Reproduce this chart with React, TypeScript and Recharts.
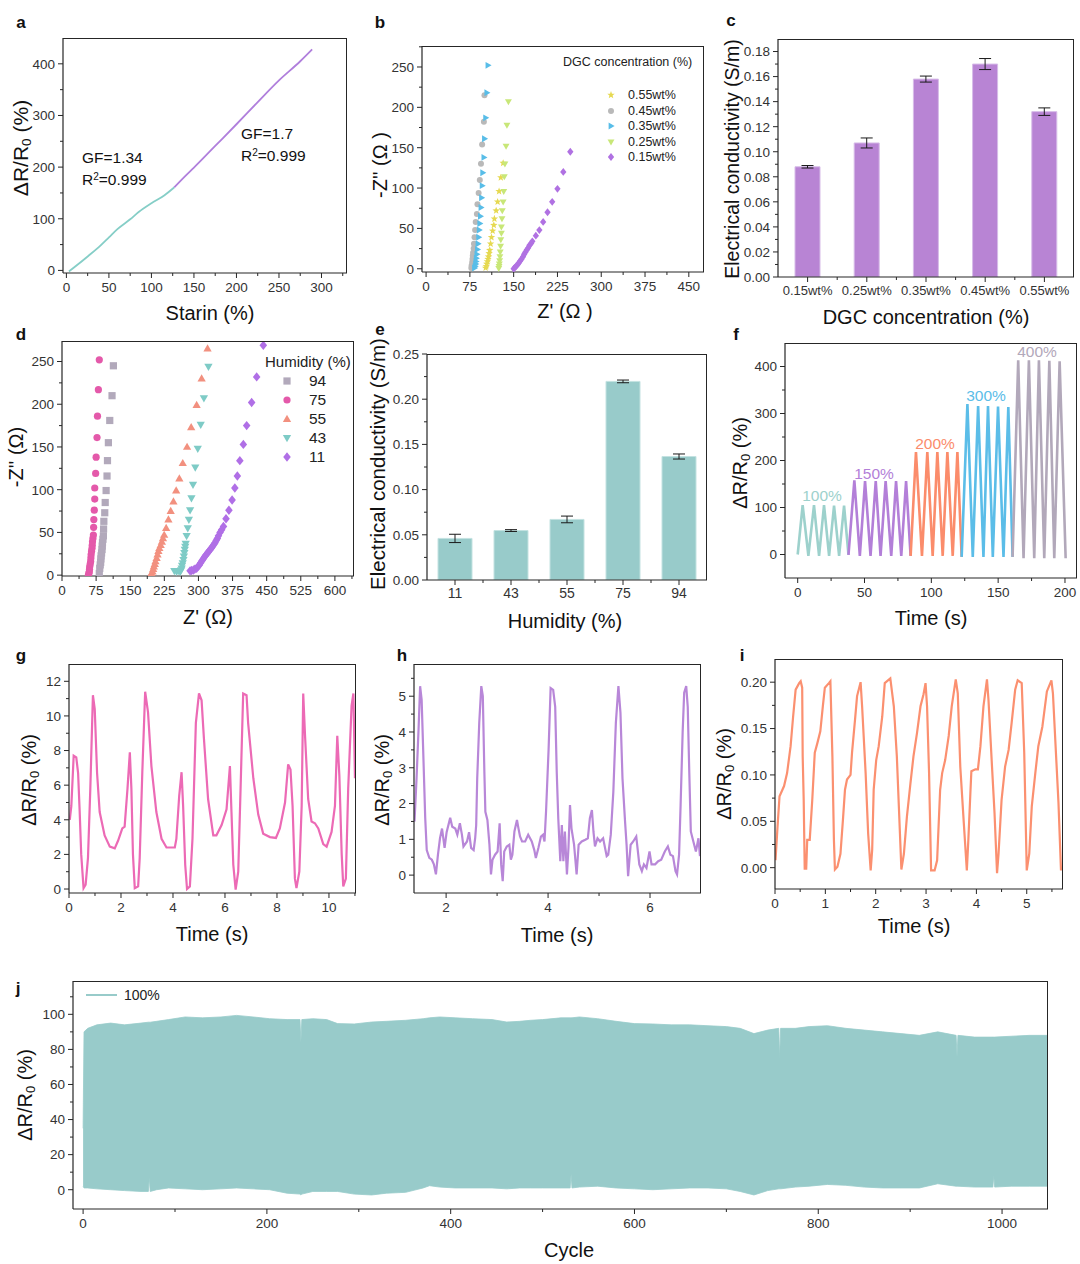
import React from 'react'
import {
  LineChart, Line, ScatterChart, Scatter, BarChart, Bar, ErrorBar, AreaChart, Area, XAxis, YAxis,
} from 'recharts'

const FONT = "'Liberation Sans', Arial, Helvetica, sans-serif"
const AXIS = '#262626'
const TXT = '#333333'

// ---------- a: strain response ----------
const aStrainLow = [3, 10, 25, 40, 50, 60, 75, 85, 100, 115, 127]
const aRespLow = [-2, 7, 27, 48, 64, 80, 99, 113, 130, 145, 161]
const aStrainHigh = [127, 140, 150, 175, 200, 225, 250, 275, 289]
const aRespHigh = [161, 183, 199, 241, 283, 326, 368, 405, 428]

// ---------- b: Nyquist vs DGC concentration ----------
const dgc055Re = [102, 103, 104, 105, 106, 107, 108, 109, 110.5, 112, 114, 116, 117, 120, 122.5, 125, 128, 132]
const dgc055Im = [1, 3, 6, 9, 12, 15, 19, 23, 31, 39, 47, 54, 62, 72, 83, 96, 113, 131]
const dgc045Re = [77.5, 78, 79, 79.5, 80, 80.5, 81.5, 82, 83, 84, 85, 87, 88, 90, 92, 94, 96, 99, 100]
const dgc045Im = [1, 4, 8, 12, 16, 20, 25, 31, 39, 48, 58, 68, 80, 94, 110, 130, 154, 182, 215]
const dgc035Re = [83, 84, 85, 85.5, 86, 87, 88, 89, 90, 91, 92, 93, 94, 95, 96, 97, 99, 100, 102, 104, 106]
const dgc035Im = [1, 3, 6, 9, 13, 18, 24, 31, 39, 48, 56, 65, 76, 88, 103, 119, 138, 161, 187, 218, 252]
const dgc025Re = [124.5, 125, 125.5, 126, 126.5, 127, 127.6, 128, 129, 129, 130, 130.5, 132, 133, 134, 135, 137, 138.5, 141]
const dgc025Im = [0.5, 3, 6, 10, 15, 21, 28, 36, 44, 52, 62, 72, 83, 96, 114, 130, 152, 178, 207]
const dgc015Re = [150, 152, 154, 156.5, 159, 161, 163.5, 166, 168, 170, 172.6, 175, 177, 180, 182, 188, 194, 200.5, 208, 216, 225, 235, 247]
const dgc015Im = [0, 1.5, 3, 5, 7.4, 9.5, 12, 15, 18, 20.5, 23.5, 26, 29, 31.5, 34, 41, 48, 58, 70, 83, 99, 120, 145]

// ---------- c: conductivity vs DGC ----------
const dgcCats = ['0.15wt%', '0.25wt%', '0.35wt%', '0.45wt%', '0.55wt%']
const dgcCond = [0.088, 0.107, 0.158, 0.170, 0.132]
const dgcErr = [0.001, 0.004, 0.0024, 0.0044, 0.003]

// ---------- d: Nyquist vs humidity ----------
const rh94Re = [82, 83, 84, 85, 85.5, 86, 87, 88, 88.5, 89, 90, 91, 91.4, 92, 94, 95, 97, 99, 100, 102, 105, 110, 113]
const rh94Im = [2, 8, 12, 15, 19, 22.6, 26, 30, 34, 38, 42, 46, 54, 63, 73, 85, 99, 116, 134, 155, 181, 210, 245]
const rh75Re = [58, 59, 60, 60.5, 61, 62, 63, 63.5, 64, 65, 66, 66.5, 67, 68, 69, 69.5, 70, 71, 72, 72, 74, 75, 77, 78, 80, 82]
const rh75Im = [0, 2, 4, 7, 10, 13, 16, 20, 24, 28, 31.5, 35, 39, 43, 47, 56, 65, 76, 89, 102, 119, 138, 161, 186, 217, 252]
const rh55Re = [195, 197, 199, 200.5, 202, 204, 205.5, 208, 210, 212, 214, 217, 219.5, 222, 224.6, 229, 234, 239, 245, 251, 258, 265.5, 275, 284, 296, 307, 320]
const rh55Im = [0, 2, 4, 7, 10, 13, 16, 20, 24, 28, 31.5, 35, 39, 43, 47, 55, 65, 75, 86, 99, 113, 131, 150, 173, 199, 230, 265]
const rh43Re = [247, 252, 257, 260, 262, 263, 264, 265.5, 267, 268, 269, 270, 271, 272, 274, 276.5, 279, 281.6, 284.6, 288, 293, 298.5, 305, 312, 322]
const rh43Im = [5, 4, 4.5, 4, 6, 8, 11, 14, 18, 22, 26, 30, 33.5, 37, 46, 55, 65, 76, 90, 106, 126, 148, 176, 207, 244]
const rh11Re = [281.6, 285, 289, 292, 296, 299, 302, 305, 308, 311, 314, 317, 319.7, 322, 325.5, 328, 331, 334, 336.5, 339, 341.6, 344, 347.5, 351, 355, 360.6, 367, 374, 380, 385.5, 391, 398.7, 406, 417, 428, 442.6]
const rh11Im = [5, 5.5, 6, 7, 8, 10, 12, 14.5, 17, 19.5, 21.8, 24, 25.7, 27.5, 29.6, 31.5, 33.5, 36, 38, 40.5, 43, 46, 50, 53, 57, 66, 76, 88, 102, 116, 134, 153, 175, 202, 232, 269]

// ---------- e: conductivity vs humidity ----------
const humCats = ['11', '43', '55', '75', '94']
const humCond = [0.046, 0.0547, 0.067, 0.2197, 0.1366]
const humErr = [0.0046, 0.001, 0.0037, 0.0015, 0.0028]

// ---------- f: cyclic strain steps ----------
const f100T = [0, 3.7, 8, 12.2, 16, 19.7, 23.5, 27.2, 31, 34.7, 38]
const f100V = [0, 105, -3, 105, -3, 105, -3, 104, -3, 104, -1]
const f150T = [38, 42.4, 46.5, 50.4, 54.5, 58.4, 62, 65.8, 70, 73.6, 77.5, 81.1, 84.5]
const f150V = [-1, 158, -3, 156, -3, 156, -3, 156, -3, 156, -3, 156, -3]
const f200T = [84.5, 88.5, 93, 97, 101, 104.5, 108.5, 112, 116, 119.5, 122.7]
const f200V = [-3, 218, -3, 218, -3, 218, -3, 218, -3, 218, -5]
const f300T = [122.7, 127, 131, 135, 139, 142.4, 146, 149.9, 154, 157.6, 160.8]
const f300V = [-5, 320, -5, 316, -5, 316, -5, 315, -5, 314, -5]
const f400T = [160.8, 165, 169, 173, 177, 180.5, 184.5, 188.3, 192, 196, 200.5]
const f400V = [-5, 413, -8, 413, -8, 413, -8, 412, -8, 411, -8]

// ---------- g ----------
const gT = [0.03, 0.09, 0.18, 0.28, 0.35, 0.41, 0.47, 0.56, 0.64, 0.73, 0.82, 0.92, 0.99, 1.08, 1.18, 1.37, 1.57, 1.76, 1.89, 2.05, 2.14, 2.25, 2.34, 2.4, 2.46, 2.53, 2.66, 2.72, 2.82, 2.93, 3.04, 3.17, 3.36, 3.56, 3.75, 4.07, 4.13, 4.24, 4.33, 4.39, 4.47, 4.54, 4.65, 4.75, 4.88, 5.0, 5.1, 5.19, 5.35, 5.55, 5.67, 5.87, 6.06, 6.19, 6.25, 6.32, 6.41, 6.51, 6.6, 6.7, 6.83, 6.89, 7.09, 7.28, 7.47, 7.73, 7.96, 8.11, 8.31, 8.43, 8.52, 8.6, 8.69, 8.75, 8.86, 8.95, 9.01, 9.08, 9.2, 9.33, 9.46, 9.59, 9.78, 9.91, 10.1, 10.23, 10.32, 10.4, 10.49, 10.55, 10.65, 10.74, 10.87, 10.94, 11.0]
const gV = [4.0, 4.8, 7.7, 7.6, 6.7, 4.5, 2.0, 0.05, 0.25, 1.8, 5.8, 11.2, 10.4, 6.7, 4.45, 3.1, 2.45, 2.35, 2.8, 3.5, 3.6, 5.8, 7.9, 5.8, 2.0, 0.05, 0.15, 1.8, 6.75, 11.4, 10.2, 7.1, 4.45, 2.9, 2.4, 2.4, 2.9, 5.4, 6.75, 4.8, 1.4, 0.0, 0.15, 2.9, 9.6, 11.3, 10.9, 8.7, 5.2, 3.1, 3.1, 3.7, 4.6, 7.1, 4.45, 1.4, -0.04, 1.0, 5.8, 11.3, 11.2, 9.6, 6.4, 4.3, 3.2, 3.0, 2.95, 3.5, 5.0, 7.2, 6.9, 4.8, 0.6, 0.05, 1.0, 4.8, 11.3, 8.85, 5.2, 3.9, 3.8, 3.5, 2.6, 2.45, 3.3, 4.8, 8.85, 6.55, 2.0, 0.15, 0.6, 5.8, 10.6, 11.3, 6.4]

// ---------- h ----------
const hT = [1.38, 1.42, 1.46, 1.49, 1.52, 1.55, 1.59, 1.62, 1.67, 1.72, 1.76, 1.8, 1.84, 1.88, 1.92, 1.97, 2.01, 2.08, 2.12, 2.18, 2.22, 2.27, 2.31, 2.34, 2.41, 2.45, 2.49, 2.54, 2.57, 2.59, 2.61, 2.65, 2.69, 2.72, 2.75, 2.77, 2.81, 2.85, 2.88, 2.91, 2.96, 3.01, 3.05, 3.08, 3.11, 3.14, 3.19, 3.24, 3.27, 3.3, 3.34, 3.39, 3.42, 3.45, 3.49, 3.55, 3.61, 3.68, 3.73, 3.76, 3.81, 3.86, 3.9, 3.93, 3.96, 4.01, 4.05, 4.1, 4.14, 4.17, 4.2, 4.24, 4.27, 4.3, 4.33, 4.37, 4.4, 4.43, 4.46, 4.51, 4.56, 4.6, 4.66, 4.73, 4.78, 4.82, 4.86, 4.89, 4.92, 4.97, 5.02, 5.08, 5.15, 5.18, 5.23, 5.28, 5.33, 5.38, 5.42, 5.46, 5.51, 5.54, 5.57, 5.62, 5.67, 5.73, 5.79, 5.84, 5.88, 5.93, 5.99, 6.03, 6.1, 6.16, 6.22, 6.29, 6.35, 6.4, 6.45, 6.5, 6.53, 6.57, 6.6, 6.64, 6.67, 6.71, 6.74, 6.77, 6.8, 6.85, 6.9, 6.95, 6.98]
const hV = [1.5, 2.7, 4.1, 5.28, 4.9, 3.5, 1.6, 0.7, 0.48, 0.43, 0.3, 0.02, 0.57, 1.03, 1.3, 0.76, 1.2, 1.6, 1.35, 1.3, 1.13, 1.45, 1.13, 0.8, 0.94, 1.2, 0.76, 0.7, 1.03, 1.4, 2.7, 4.26, 5.28, 5.0, 2.9, 1.77, 1.54, 0.85, 0.02, 0.43, 0.57, 0.66, 1.45, 0.3, -0.17, 0.66, 0.8, 0.85, 0.43, 0.57, 1.22, 1.54, 1.3, 1.08, 0.94, 0.94, 1.13, 0.94, 0.7, 0.48, 0.76, 1.08, 1.13, 0.94, 1.77, 3.5, 5.23, 5.18, 4.7, 2.88, 1.59, 0.39, 1.4, 0.39, 1.22, 0.02, 0.76, 1.96, 1.3, 0.85, 0.02, 0.85, 0.94, 0.99, 1.03, 1.59, 1.82, 1.22, 0.8, 1.03, 0.94, 1.03, 0.53, 0.57, 1.13, 2.32, 4.26, 5.28, 4.54, 2.7, 1.5, 0.85, -0.03, 0.85, 0.94, 1.08, 0.3, 0.11, 0.3, 0.2, 0.66, 0.3, 0.3, 0.39, 0.43, 0.66, 0.8, 0.57, 0.53, 0.11, 0.02, 0.57, 1.96, 3.99, 5.1, 5.28, 4.7, 2.88, 1.22, 0.94, 0.66, 1.03, 0.53]

// ---------- i ----------
const iT = [0.01, 0.05, 0.09, 0.18, 0.24, 0.31, 0.36, 0.41, 0.48, 0.51, 0.54, 0.55, 0.57, 0.59, 0.62, 0.64, 0.69, 0.74, 0.79, 0.84, 0.9, 0.95, 0.99, 1.07, 1.1, 1.14, 1.17, 1.19, 1.24, 1.3, 1.35, 1.39, 1.43, 1.5, 1.53, 1.59, 1.63, 1.7, 1.73, 1.8, 1.85, 1.9, 1.93, 1.96, 2.01, 2.06, 2.13, 2.18, 2.29, 2.36, 2.42, 2.46, 2.51, 2.56, 2.62, 2.69, 2.75, 2.82, 2.89, 2.95, 2.99, 3.02, 3.06, 3.1, 3.17, 3.22, 3.28, 3.32, 3.38, 3.45, 3.51, 3.59, 3.63, 3.68, 3.75, 3.81, 3.84, 3.88, 3.9, 3.98, 4.03, 4.08, 4.14, 4.21, 4.24, 4.31, 4.36, 4.41, 4.44, 4.5, 4.57, 4.64, 4.7, 4.77, 4.82, 4.9, 4.95, 5.0, 5.05, 5.1, 5.17, 5.23, 5.31, 5.4, 5.49, 5.52, 5.56, 5.63, 5.68]
const iV = [0.008, 0.044, 0.077, 0.088, 0.102, 0.131, 0.163, 0.192, 0.199, 0.201, 0.194, 0.12, 0.073, -0.001, -0.001, 0.03, 0.03, 0.073, 0.124, 0.134, 0.147, 0.174, 0.194, 0.199, 0.201, 0.12, 0.03, -0.002, 0.001, 0.015, 0.052, 0.084, 0.095, 0.1, 0.124, 0.16, 0.185, 0.2, 0.174, 0.102, 0.037, -0.003, 0.019, 0.084, 0.116, 0.131, 0.163, 0.199, 0.204, 0.174, 0.12, 0.066, -0.002, 0.015, 0.055, 0.091, 0.12, 0.145, 0.174, 0.187, 0.199, 0.174, 0.102, -0.003, -0.003, 0.008, 0.084, 0.102, 0.116, 0.142, 0.174, 0.203, 0.188, 0.109, 0.048, -0.003, 0.03, 0.08, 0.104, 0.106, 0.106, 0.131, 0.174, 0.203, 0.181, 0.109, 0.059, -0.006, 0.015, 0.073, 0.109, 0.127, 0.156, 0.192, 0.202, 0.199, 0.124, -0.003, 0.015, 0.066, 0.102, 0.131, 0.152, 0.19, 0.202, 0.188, 0.145, 0.07, -0.003]

// ---------- j: long cycling envelope ----------
const jCycle = [0, 1, 5, 15, 30, 45, 63, 71, 72, 73, 80, 93, 111, 130, 150, 167, 185, 203, 222, 236, 237, 238, 250, 265, 277, 295, 314, 330, 351, 370, 377, 388, 405, 424, 445, 461, 475, 487, 500, 520, 530, 531, 532, 540, 560, 580, 600, 620, 640, 660, 680, 700, 715, 730, 745, 757, 758, 759, 775, 790, 810, 830, 850, 870, 890, 910, 930, 950, 951, 952, 970, 990, 991, 992, 1010, 1030, 1050]
const jHigh = [35, 90, 92, 94, 95, 94, 95, 95.5, 95.5, 95.5, 96, 97, 98.5, 98, 98.5, 99.4, 98.5, 97.5, 97, 97, 84, 97, 97.5, 97, 94.7, 94.5, 95.6, 96, 96.6, 97.5, 98, 98.5, 98, 97.5, 97, 95.6, 96, 96.6, 97, 98, 98, 98, 98, 98.5, 97.5, 96, 94.7, 94.5, 94, 94, 93.5, 93, 92, 89, 91, 92, 75, 92, 92, 93, 93.5, 92, 91, 90, 89, 88, 90, 88, 76, 88, 87, 87, 87, 87, 87.5, 88, 88]
const jLow = [2, 1, 1, 0.5, 0, -0.5, -1, -1, 7, -1, 0, 1, 0.5, 0, 0.5, 1, 0.5, 0, -2, -2.5, -3, -2.5, -1, -1, -1, -2.5, -3, -2, -1.5, 1, 2.3, 1.5, 1, 1, 1, 0.5, 1, 1, 1, 1, 1, 9, 1, 1.5, 2, 1, 0.5, 0, 0.5, 1, 1, 0.5, -1, -3, -0.5, 0.5, 0.5, 0.5, 1.5, 2, 3, 2.5, 1.5, 1, 1, 1, 3.4, 2, 2, 2, 1.5, 1.5, 8, 1.5, 2, 2, 2]

// ---------- helpers ----------
const pairs = (xs: number[], ys: number[]) =>
  xs.slice(0, Math.min(xs.length, ys.length)).map((x, i) => ({ x, y: ys[i] }))

type Box = { L: number; T: number; R: number; B: number }
const PL = 50
const PT = 10
const PR = 10
const PB = 30
const M = { top: PT, right: PR, bottom: 0, left: 0 }
const dims = (b: Box) => ({ w: b.R - b.L + PL + PR, h: b.B - b.T + PT + PB })

const num = (v: number) => String(v)
const fix2 = (v: number) => v.toFixed(2)
const near = (arr: number[], v: number) => arr.some((m) => Math.abs(m - v) < 1e-6)

function bottomTick(maj: number[], fmt: (v: number) => string, fs = 13.5) {
  return (p: any) => {
    const v = Number(p.payload.value)
    const major = near(maj, v)
    return (
      <g>
        <line x1={p.x} x2={p.x} y1={p.y} y2={p.y + (major ? 5 : 3)} stroke={AXIS} strokeWidth={1} />
        {major ? (
          <text x={p.x} y={p.y + 19} textAnchor="middle" fontSize={fs} fill={TXT} fontFamily={FONT}>
            {fmt(v)}
          </text>
        ) : null}
      </g>
    )
  }
}

function leftTick(maj: number[], fmt: (v: number) => string, fs = 13.5) {
  return (p: any) => {
    const v = Number(p.payload.value)
    const major = near(maj, v)
    return (
      <g>
        <line x1={p.x} x2={p.x - (major ? 5 : 3)} y1={p.y} y2={p.y} stroke={AXIS} strokeWidth={1} />
        {major ? (
          <text x={p.x - 8} y={p.y} dy="0.36em" textAnchor="end" fontSize={fs} fill={TXT} fontFamily={FONT}>
            {fmt(v)}
          </text>
        ) : null}
      </g>
    )
  }
}

function catTick(band: number, fs = 13) {
  return (p: any) => (
    <g>
      <line x1={p.x} x2={p.x} y1={p.y} y2={p.y + 5} stroke={AXIS} strokeWidth={1} />
      {p.index > 0 ? (
        <line x1={p.x - band / 2} x2={p.x - band / 2} y1={p.y} y2={p.y + 3} stroke={AXIS} strokeWidth={1} />
      ) : null}
      <text x={p.x} y={p.y + 18} textAnchor="middle" fontSize={fs} fill={TXT} fontFamily={FONT}>
        {p.payload.value}
      </text>
    </g>
  )
}

const sorted = (a: number[], b: number[]) => [...a, ...b].sort((x, y) => x - y)

function xNum(domain: [number, number], maj: number[], min: number[], fmt = num) {
  return {
    type: 'number' as const,
    dataKey: 'x',
    domain,
    allowDataOverflow: true,
    ticks: sorted(maj, min),
    interval: 0 as const,
    tickSize: 0,
    tickMargin: 0,
    tickLine: false,
    height: PB,
    axisLine: { stroke: AXIS, strokeWidth: 1.2 },
    tick: bottomTick(maj, fmt),
  }
}

function yNum(domain: [number, number], maj: number[], min: number[], fmt = num, key?: string) {
  return {
    type: 'number' as const,
    dataKey: key,
    domain,
    allowDataOverflow: true,
    ticks: sorted(maj, min),
    interval: 0 as const,
    tickSize: 0,
    tickMargin: 0,
    tickLine: false,
    width: PL,
    axisLine: { stroke: AXIS, strokeWidth: 1.2 },
    tick: leftTick(maj, fmt),
  }
}

function Frame({ box, children }: { box: Box; children: React.ReactNode }) {
  const { w, h } = dims(box)
  return (
    <div style={{ position: 'absolute', left: box.L - PL, top: box.T - PT, width: w, height: h }}>
      {children}
      <div
        style={{
          position: 'absolute', left: PL, top: PT, width: box.R - box.L, height: box.B - box.T,
          borderTop: `1px solid ${AXIS}`, borderRight: `1px solid ${AXIS}`, boxSizing: 'border-box', pointerEvents: 'none',
        }}
      />
    </div>
  )
}

function T({ x, y, children, size = 20, rot = false, bold = false, color = '#111', left = false }: any) {
  return (
    <div
      style={{
        position: 'absolute', left: x, top: y, whiteSpace: 'nowrap', lineHeight: 1,
        transform: `translate(${left ? '0' : '-50%'}, -50%)${rot ? ' rotate(-90deg)' : ''}`,
        fontSize: size, fontWeight: bold ? 700 : 400, color, fontFamily: FONT,
      }}
    >
      {children}
    </div>
  )
}

const Sub = ({ c }: { c: string }) => <sub style={{ fontSize: '0.65em', verticalAlign: '-0.25em', lineHeight: 0 }}>{c}</sub>
const Sup = ({ c }: { c: string }) => <sup style={{ fontSize: '0.65em', verticalAlign: '0.5em', lineHeight: 0 }}>{c}</sup>
const DR = () => <>ΔR/R<Sub c="0" /> (%)</>

// marker drawing
function markerEl(kind: string, cx: number, cy: number, r: number, color: string) {
  switch (kind) {
    case 'circle':
      return <circle cx={cx} cy={cy} r={r} fill={color} />
    case 'square':
      return <rect x={cx - r} y={cy - r} width={2 * r} height={2 * r} fill={color} />
    case 'up':
      return <polygon points={`${cx},${cy - r * 1.2} ${cx + r * 1.15},${cy + r * 0.8} ${cx - r * 1.15},${cy + r * 0.8}`} fill={color} />
    case 'down':
      return <polygon points={`${cx},${cy + r * 1.2} ${cx + r * 1.15},${cy - r * 0.8} ${cx - r * 1.15},${cy - r * 0.8}`} fill={color} />
    case 'right':
      return <polygon points={`${cx + r * 1.2},${cy} ${cx - r * 0.8},${cy - r * 1.15} ${cx - r * 0.8},${cy + r * 1.15}`} fill={color} />
    case 'diamond':
      return <polygon points={`${cx},${cy - r * 1.3} ${cx + r * 1.05},${cy} ${cx},${cy + r * 1.3} ${cx - r * 1.05},${cy}`} fill={color} />
    default: {
      const pts: string[] = []
      for (let k = 0; k < 10; k++) {
        const rr = k % 2 === 0 ? r * 1.3 : r * 0.55
        const a = -Math.PI / 2 + (k * Math.PI) / 5
        pts.push(`${cx + rr * Math.cos(a)},${cy + rr * Math.sin(a)}`)
      }
      return <polygon points={pts.join(' ')} fill={color} />
    }
  }
}

const shape = (kind: string, color: string, r: number) => (p: any) =>
  p.cx == null || p.cy == null ? <g /> : markerEl(kind, p.cx, p.cy, r, color)

function MiniMarker({ kind, color, r }: { kind: string; color: string; r: number }) {
  return (
    <svg width={14} height={14} style={{ display: 'block' }}>
      {markerEl(kind, 7, 7, r, color)}
    </svg>
  )
}

// ---------- series styles ----------
const dgcSeries = [
  { name: '0.55wt%', re: dgc055Re, im: dgc055Im, kind: 'star', color: '#e6d951' },
  { name: '0.45wt%', re: dgc045Re, im: dgc045Im, kind: 'circle', color: '#b9b9b9' },
  { name: '0.35wt%', re: dgc035Re, im: dgc035Im, kind: 'right', color: '#58bde8' },
  { name: '0.25wt%', re: dgc025Re, im: dgc025Im, kind: 'down', color: '#c8e778' },
  { name: '0.15wt%', re: dgc015Re, im: dgc015Im, kind: 'diamond', color: '#b071e2' },
]
const rhSeries = [
  { name: '94', re: rh94Re, im: rh94Im, kind: 'square', color: '#b2a9bb' },
  { name: '75', re: rh75Re, im: rh75Im, kind: 'circle', color: '#e459aa' },
  { name: '55', re: rh55Re, im: rh55Im, kind: 'up', color: '#f2907f' },
  { name: '43', re: rh43Re, im: rh43Im, kind: 'down', color: '#7ecbc6' },
  { name: '11', re: rh11Re, im: rh11Im, kind: 'diamond', color: '#b06fe6' },
]
const fSeries = [
  { t: f100T, v: f100V, color: '#9dd1cc' },
  { t: f150T, v: f150V, color: '#b37fd8' },
  { t: f200T, v: f200V, color: '#fb8c6b' },
  { t: f300T, v: f300V, color: '#5bbde8' },
  { t: f400T, v: f400V, color: '#b2a8ba' },
]

// ---------- boxes ----------
const boxA: Box = { L: 63, T: 38, R: 347, B: 273 }
const boxB: Box = { L: 422, T: 46, R: 704, B: 272 }
const boxC: Box = { L: 778, T: 39, R: 1074, B: 277 }
const boxD: Box = { L: 62, T: 341, R: 354, B: 576 }
const boxE: Box = { L: 427, T: 354, R: 707, B: 580 }
const boxF: Box = { L: 785, T: 343, R: 1077, B: 578 }
const boxG: Box = { L: 69, T: 664, R: 356, B: 893 }
const boxH: Box = { L: 414, T: 664, R: 701, B: 893 }
const boxI: Box = { L: 775, T: 659, R: 1063, B: 889 }
const boxJ: Box = { L: 73, T: 981, R: 1048, B: 1209 }

function PanelA() {
  const { w, h } = dims(boxA)
  return (
    <>
      <Frame box={boxA}>
        <LineChart width={w} height={h} margin={M}>
          <XAxis {...xNum([-4, 330], [0, 50, 100, 150, 200, 250, 300], [25, 75, 125, 175, 225, 275, 325])} />
          <YAxis {...yNum([-5, 450], [0, 100, 200, 300, 400], [50, 150, 250, 350])} />
          <Line data={pairs(aStrainLow, aRespLow)} dataKey="y" type="monotone" stroke="#85cec7" strokeWidth={1.8} dot={false} isAnimationActive={false} />
          <Line data={pairs(aStrainHigh, aRespHigh)} dataKey="y" type="monotone" stroke="#b07fdc" strokeWidth={1.8} dot={false} isAnimationActive={false} />
        </LineChart>
      </Frame>
      <T x={21} y={22} size={17} bold>a</T>
      <T x={20} y={148} size={21} rot><DR /></T>
      <T x={210} y={313}>Starin (%)</T>
      <T x={82} y={158} size={15.5} left>GF=1.34</T>
      <T x={82} y={180} size={15.5} left>R<Sup c="2" />=0.999</T>
      <T x={241} y={134} size={15.5} left>GF=1.7</T>
      <T x={241} y={156} size={15.5} left>R<Sup c="2" />=0.999</T>
    </>
  )
}

function PanelB() {
  const { w, h } = dims(boxB)
  return (
    <>
      <Frame box={boxB}>
        <ScatterChart width={w} height={h} margin={M}>
          <XAxis {...xNum([-7, 476], [0, 75, 150, 225, 300, 375, 450], [37.5, 112.5, 187.5, 262.5, 337.5, 412.5])} />
          <YAxis {...yNum([-4, 276], [0, 50, 100, 150, 200, 250], [25, 75, 125, 175, 225, 275], num, 'y')} />
          {dgcSeries.map((s) => (
            <Scatter key={s.name} data={pairs(s.re, s.im)} shape={shape(s.kind, s.color, 3)} isAnimationActive={false} />
          ))}
        </ScatterChart>
      </Frame>
      <T x={380} y={22} size={17} bold>b</T>
      <T x={380} y={165} rot>-Z'' (Ω )</T>
      <T x={565} y={311}>Z' (Ω )</T>
      <T x={563} y={62} size={12.5} left color="#222">DGC concentration (%)</T>
      {dgcSeries.map((s, i) => (
        <React.Fragment key={s.name}>
          <div style={{ position: 'absolute', left: 604, top: 95 + i * 15.5 - 7 }}>
            <MiniMarker kind={s.kind} color={s.color} r={3} />
          </div>
          <T x={628} y={95 + i * 15.5} size={12.5} left color="#222">{s.name}</T>
        </React.Fragment>
      ))}
    </>
  )
}

function barRows(cats: string[], vals: number[], errs: number[]) {
  return cats.map((c, i) => ({ cat: c, v: vals[i], err: errs[i] }))
}

function PanelC() {
  const { w, h } = dims(boxC)
  const band = (boxC.R - boxC.L) / dgcCats.length
  return (
    <>
      <Frame box={boxC}>
        <BarChart width={w} height={h} margin={M} data={barRows(dgcCats, dgcCond, dgcErr)}>
          <XAxis dataKey="cat" type="category" height={PB} tickSize={0} tickMargin={0} tickLine={false} interval={0}
            axisLine={{ stroke: AXIS, strokeWidth: 1.2 }} tick={catTick(band, 13)} />
          <YAxis {...yNum([0, 0.19], [0, 0.02, 0.04, 0.06, 0.08, 0.1, 0.12, 0.14, 0.16, 0.18],
            [0.01, 0.03, 0.05, 0.07, 0.09, 0.11, 0.13, 0.15, 0.17], fix2)} />
          <Bar dataKey="v" barSize={25} fill="#b884d4" stroke="#d7bce8" strokeWidth={1} isAnimationActive={false}>
            <ErrorBar dataKey="err" width={6} stroke="#1a1a1a" strokeWidth={1} direction="y" isAnimationActive={false} />
          </Bar>
        </BarChart>
      </Frame>
      <T x={731} y={20} size={17} bold>c</T>
      <T x={733} y={159} size={19.5} rot>Electrical conductivity (S/m)</T>
      <T x={926} y={317}>DGC concentration (%)</T>
    </>
  )
}

function PanelD() {
  const { w, h } = dims(boxD)
  return (
    <>
      <Frame box={boxD}>
        <ScatterChart width={w} height={h} margin={M}>
          <XAxis {...xNum([0, 642], [0, 75, 150, 225, 300, 375, 450, 525, 600],
            [37.5, 112.5, 187.5, 262.5, 337.5, 412.5, 487.5, 562.5, 637.5])} />
          <YAxis {...yNum([-1, 274], [0, 50, 100, 150, 200, 250], [25, 75, 125, 175, 225], num, 'y')} />
          {rhSeries.map((s) => (
            <Scatter key={s.name} data={pairs(s.re, s.im)} shape={shape(s.kind, s.color, 3.6)} isAnimationActive={false} />
          ))}
        </ScatterChart>
      </Frame>
      <T x={21} y={334} size={17} bold>d</T>
      <T x={16} y={457} rot>-Z'' (Ω)</T>
      <T x={208} y={617}>Z' (Ω)</T>
      <T x={265} y={361} size={15} left color="#222">Humidity (%)</T>
      {rhSeries.map((s, i) => (
        <React.Fragment key={s.name}>
          <div style={{ position: 'absolute', left: 280, top: 381 + i * 19.1 - 7 }}>
            <MiniMarker kind={s.kind} color={s.color} r={3.6} />
          </div>
          <T x={309} y={381 + i * 19.1} size={15.5} left color="#222">{s.name}</T>
        </React.Fragment>
      ))}
    </>
  )
}

function PanelE() {
  const { w, h } = dims(boxE)
  const band = (boxE.R - boxE.L) / humCats.length
  return (
    <>
      <Frame box={boxE}>
        <BarChart width={w} height={h} margin={M} data={barRows(humCats, humCond, humErr)}>
          <XAxis dataKey="cat" type="category" height={PB} tickSize={0} tickMargin={0} tickLine={false} interval={0}
            axisLine={{ stroke: AXIS, strokeWidth: 1.2 }} tick={catTick(band, 14)} />
          <YAxis {...yNum([0, 0.25], [0, 0.05, 0.1, 0.15, 0.2, 0.25], [0.025, 0.075, 0.125, 0.175, 0.225], fix2)} />
          <Bar dataKey="v" barSize={34} fill="#98cbca" stroke="#c3e2e1" strokeWidth={1} isAnimationActive={false}>
            <ErrorBar dataKey="err" width={6} stroke="#1a1a1a" strokeWidth={1} direction="y" isAnimationActive={false} />
          </Bar>
        </BarChart>
      </Frame>
      <T x={380} y={329} size={17} bold>e</T>
      <T x={378} y={464} size={20.5} rot>Electrical conductivity (S/m)</T>
      <T x={565} y={621}>Humidity (%)</T>
    </>
  )
}

function PanelF() {
  const { w, h } = dims(boxF)
  const labels = [
    { t: '100%', x: 822, y: 496, c: '#9dd1cc' },
    { t: '150%', x: 874, y: 474, c: '#b37fd8' },
    { t: '200%', x: 935, y: 444, c: '#fb8c6b' },
    { t: '300%', x: 986, y: 396, c: '#5bbde8' },
    { t: '400%', x: 1037, y: 352, c: '#b2a8ba' },
  ]
  return (
    <>
      <Frame box={boxF}>
        <LineChart width={w} height={h} margin={M}>
          <XAxis {...xNum([-9.5, 209], [0, 50, 100, 150, 200], [25, 75, 125, 175])} />
          <YAxis {...yNum([-50, 450], [0, 100, 200, 300, 400], [50, 150, 250, 350])} />
          {fSeries.map((s, i) => (
            <Line key={i} data={pairs(s.t, s.v)} dataKey="y" stroke={s.color} strokeWidth={2.6} dot={false} isAnimationActive={false} />
          ))}
        </LineChart>
      </Frame>
      {labels.map((l) => (
        <T key={l.t} x={l.x} y={l.y} size={15.5} color={l.c}>{l.t}</T>
      ))}
      <T x={736} y={334} size={17} bold>f</T>
      <T x={740} y={463} rot><DR /></T>
      <T x={931} y={618}>Time (s)</T>
    </>
  )
}

function WavePanel({ box, data, color, xd, yd, xMaj, xMin, yMaj, yMin, yFmt }: any) {
  const { w, h } = dims(box)
  return (
    <Frame box={box}>
      <LineChart width={w} height={h} margin={M}>
        <XAxis {...xNum(xd, xMaj, xMin)} />
        <YAxis {...yNum(yd, yMaj, yMin, yFmt)} />
        <Line data={data} dataKey="y" stroke={color} strokeWidth={2.2} dot={false} isAnimationActive={false} />
      </LineChart>
    </Frame>
  )
}

function PanelJ() {
  const { w, h } = dims(boxJ)
  const rows = jCycle.map((c, i) => ({ x: c, band: [jLow[i], jHigh[i]] }))
  return (
    <>
      <Frame box={boxJ}>
        <AreaChart width={w} height={h} margin={M} data={rows}>
          <XAxis {...xNum([-11, 1050], [0, 200, 400, 600, 800, 1000], [100, 300, 500, 700, 900])} />
          <YAxis {...yNum([-11, 119], [0, 20, 40, 60, 80, 100], [10, 30, 50, 70, 90, 110])} />
          <Area dataKey="band" type="linear" fill="#98cbca" fillOpacity={1} stroke="#98cbca" strokeWidth={0.8} isAnimationActive={false} />
        </AreaChart>
      </Frame>
      <div style={{ position: 'absolute', left: 86, top: 994, width: 31, height: 1.5, background: '#98cbca' }} />
      <T x={124} y={995} size={14} left color="#222">100%</T>
      <T x={18} y={988} size={17} bold>j</T>
      <T x={25} y={1095} rot><DR /></T>
      <T x={569} y={1250}>Cycle</T>
    </>
  )
}

export default function App() {
  return (
    <div style={{ position: 'absolute', left: 0, top: 0, width: 1080, height: 1264, background: '#fff', overflow: 'hidden', fontFamily: FONT }}>
      <PanelA />
      <PanelB />
      <PanelC />
      <PanelD />
      <PanelE />
      <PanelF />
      <WavePanel box={boxG} data={pairs(gT, gV)} color="#ec6ab5" xd={[0, 11.04]} yd={[-0.23, 13]}
        xMaj={[0, 2, 4, 6, 8, 10]} xMin={[1, 3, 5, 7, 9, 11]} yMaj={[0, 2, 4, 6, 8, 10, 12]} yMin={[1, 3, 5, 7, 9, 11]} yFmt={num} />
      <T x={21} y={655} size={17} bold>g</T>
      <T x={29} y={780} rot><DR /></T>
      <T x={212} y={934}>Time (s)</T>
      <WavePanel box={boxH} data={pairs(hT, hV)} color="#b887d8" xd={[1.37, 7]} yd={[-0.5, 5.9]}
        xMaj={[2, 4, 6]} xMin={[3, 5]} yMaj={[0, 1, 2, 3, 4, 5]} yMin={[0.5, 1.5, 2.5, 3.5, 4.5, 5.5]} yFmt={num} />
      <T x={402} y={655} size={17} bold>h</T>
      <T x={382} y={780} rot><DR /></T>
      <T x={557} y={935}>Time (s)</T>
      <WavePanel box={boxI} data={pairs(iT, iV)} color="#fb9070" xd={[0, 5.72]} yd={[-0.023, 0.225]}
        xMaj={[0, 1, 2, 3, 4, 5]} xMin={[0.5, 1.5, 2.5, 3.5, 4.5, 5.5]} yMaj={[0, 0.05, 0.1, 0.15, 0.2]} yMin={[0.025, 0.075, 0.125, 0.175]} yFmt={fix2} />
      <T x={742} y={655} size={17} bold>i</T>
      <T x={724} y={774} rot><DR /></T>
      <T x={914} y={926}>Time (s)</T>
      <PanelJ />
    </div>
  )
}
